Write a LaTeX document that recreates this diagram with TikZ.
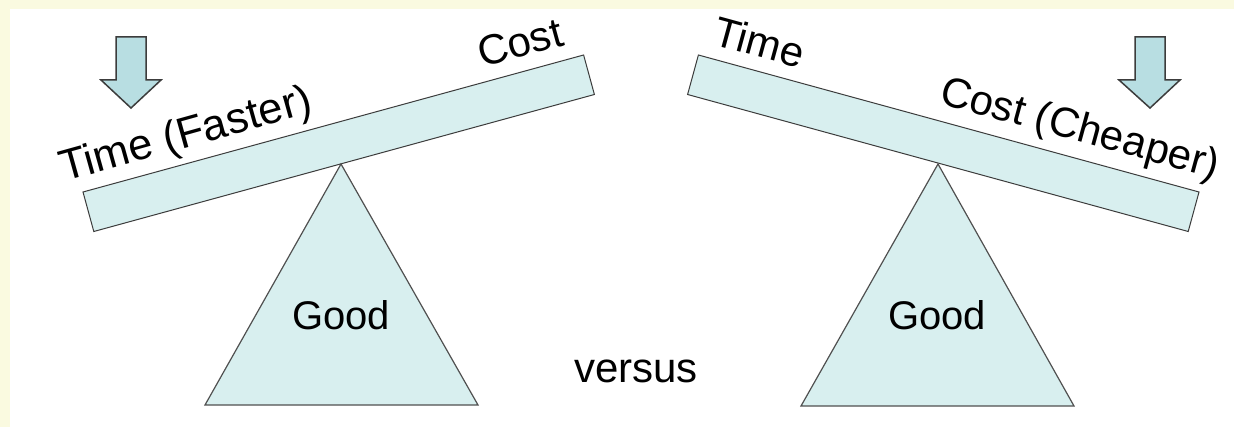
\documentclass[tikz,border=0pt]{standalone}
\usepackage{fontspec}
\setmainfont{Liberation Sans}
\definecolor{cream}{RGB}{250,250,224}
\definecolor{beamfill}{RGB}{216,239,239}
\definecolor{arrowfill}{RGB}{184,222,226}
\definecolor{edge}{RGB}{60,60,60}
\tikzset{
  beam/.style={fill=beamfill, draw=edge, line width=1pt, line join=miter},
  pivot/.style={fill=beamfill, draw=edge!90, line width=1.2pt, line join=miter},
  downarrow/.style={fill=arrowfill, draw=edge, line width=1.5pt, line join=miter},
  lbl/.style={font=\fontsize{42pt}{50pt}\selectfont, inner sep=0pt, text=black},
  goodlbl/.style={font=\fontsize{40pt}{48pt}\selectfont, inner sep=0pt, text=black}
}
\begin{document}
\begin{tikzpicture}[x=1pt,y=-1pt]
\useasboundingbox (0,0) rectangle (1234,427);
\fill[cream] (0,0) rectangle (1234,427);
\fill[white] (10,9) rectangle (1234,427);
% left see-saw
\draw[beam] (83,192) -- (583.6,55) -- (594.4,94.5) -- (93.8,231.5) -- cycle;
\draw[pivot] (341,164) -- (478,405) -- (205,405) -- cycle;
\node[goodlbl, anchor=base] (goodL) at (341,330) {Good};
\node[lbl, font=\fontsize{43.5pt}{50pt}\selectfont, anchor=base west, rotate=15.6] (timeL) at (64,182) {Time (Faster)};
\node[lbl, anchor=base west, rotate=15.3] (costL) at (482,68) {Cost};
\draw[downarrow] (116,37) -- (146,37) -- (146,80) -- (161,80) -- (131,108) -- (101,80) -- (116,80) -- cycle;
% right see-saw
\draw[beam] (698.4,55) -- (1199,192) -- (1188.2,231.5) -- (687.6,94.5) -- cycle;
\draw[pivot] (938,164) -- (1074,406) -- (801,406) -- cycle;
\node[goodlbl, anchor=base] (goodR) at (937,330) {Good};
\node[lbl, anchor=base west, rotate=-15.3] (timeR) at (711,44) {Time};
\node[lbl, anchor=base west, rotate=-15.3] (costR) at (938,103) {Cost (Cheaper)};
\draw[downarrow] (1135,37) -- (1165,37) -- (1165,80) -- (1180,80) -- (1150,108) -- (1119,80) -- (1135,80) -- cycle;
% middle
\node[lbl, anchor=base] (versus) at (636,383) {versus};
\end{tikzpicture}
\end{document}
